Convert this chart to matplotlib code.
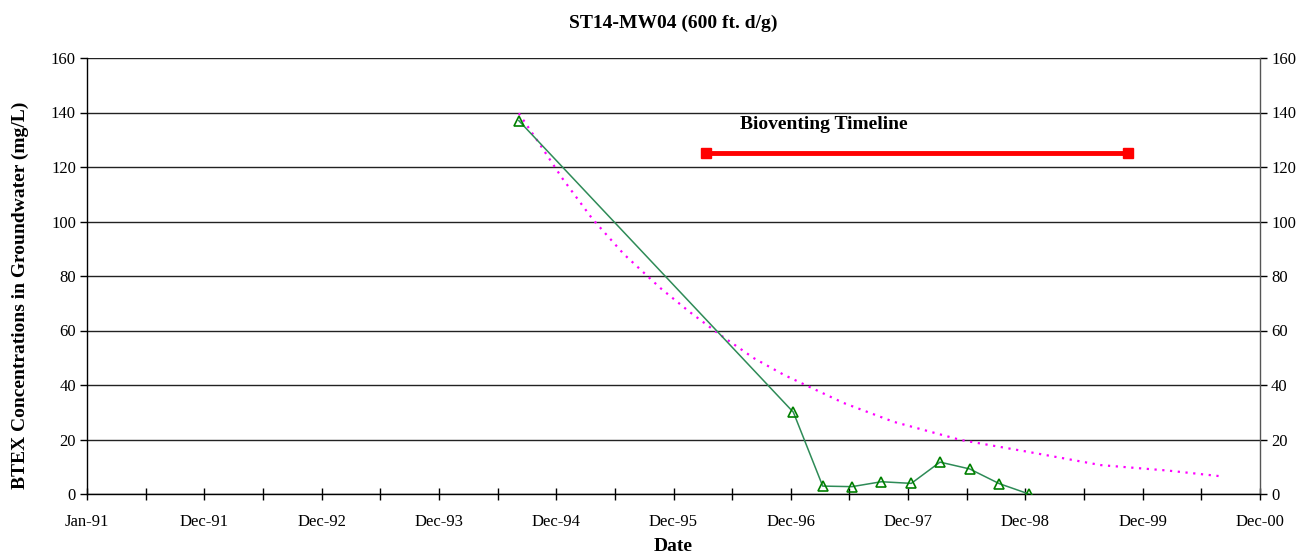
import matplotlib
matplotlib.use("Agg")
import matplotlib.pyplot as plt
import matplotlib.dates as mdates
from matplotlib.ticker import FixedLocator, MultipleLocator
import numpy as np
from datetime import datetime

plt.rcParams['font.family'] = ['Liberation Serif', 'DejaVu Serif']

# 監測井 BTEX 濃度 (mg/L)
sample_dates = ["1994-09-02", "1997-01-01", "1997-04-02", "1997-07-02", "1997-10-01",
                "1998-01-02", "1998-04-01", "1998-07-02", "1998-10-02", "1999-01-02"]
btex = [137, 30, 2.9, 2.7, 4.5, 3.9, 11.7, 9.2, 3.8, 0]

# 趨勢線
trend_dates = ["1994-09-02", "1994-11-08", "1995-01-14", "1995-04-18", "1995-07-25",
               "1995-11-16", "1996-02-12", "1996-05-20", "1996-09-01", "1996-12-03",
               "1997-06-06", "1997-11-08", "1998-06-05", "1998-12-29", "1999-08-13",
               "2000-03-08", "2000-08-28"]
trend_vals = [139.7, 128, 116, 101, 88, 75.5, 67, 58.3, 49.8, 43.7,
              33.4, 26.5, 19.8, 15.5, 10.6, 8.6, 6.4]

# Bioventing 時間線
bio_dates = ["1996-04-04", "1999-11-06"]
bio_vals = [125, 125]
bio_label = "Bioventing Timeline"
bio_label_date = "1997-04-05"
bio_label_val = 135.5

title = "ST14-MW04 (600 ft. d/g)"
x_label = "Date"
y_label = "BTEX Concentrations in Groundwater (mg/L)"


def to_num(dates):
    return mdates.date2num([datetime.strptime(d, "%Y-%m-%d") for d in dates])


fig = plt.figure(figsize=(13.09, 5.56), dpi=100)
ax = fig.add_axes([87 / 1309, 1 - 494 / 556, (1260 - 87) / 1309, (494 - 58) / 556])

x_start = mdates.date2num(datetime(1991, 1, 1))
x_end = x_start + 3640
ax.set_xlim(x_start, x_end)
ax.set_ylim(0, 160)

# 格線
ax.yaxis.set_major_locator(MultipleLocator(20))
ax.grid(axis='y', color='#222222', linewidth=1.0)
ax.set_axisbelow(True)

# 數據線
ax.plot(to_num(trend_dates), trend_vals, color='#FF00FF', linestyle=(0, (1, 2.5)),
        linewidth=1.6, zorder=3)
ax.plot(to_num(sample_dates), btex, color='#2E8B57', linewidth=1.1, marker='^',
        markersize=7, markerfacecolor='none', markeredgecolor='#008000',
        markeredgewidth=1.2, zorder=4)
ax.plot(to_num(bio_dates), bio_vals, color='#FF0000', linewidth=3.5, marker='s',
        markersize=7, zorder=5)
ax.text(to_num([bio_label_date])[0], bio_label_val, bio_label, ha='center', va='center',
        fontsize=14, fontweight='bold')

# 座標軸
ax.xaxis.set_major_locator(FixedLocator(np.arange(x_start, x_end + 1, 364)))
ax.xaxis.set_minor_locator(FixedLocator(np.arange(x_start, x_end + 1, 182)))
ax.xaxis.set_major_formatter(mdates.DateFormatter('%b-%y'))
ax.tick_params(axis='x', which='both', direction='inout', length=9, width=1,
               labelsize=12, pad=10)
ax.tick_params(axis='y', direction='out', length=5, width=1, labelsize=12,
               right=True, labelright=True, pad=3)

ax.spines['top'].set_visible(False)
for side in ['left', 'bottom', 'right']:
    ax.spines[side].set_linewidth(1.0)
ax.spines['right'].set_color('#555555')

ax.set_title(title, fontsize=14, fontweight='bold', pad=22)
ax.set_xlabel(x_label, fontsize=14, fontweight='bold', labelpad=6)
ax.set_ylabel(y_label, fontsize=14, fontweight='bold')
ax.yaxis.set_label_coords(-0.0495, 0.455)

fig.savefig("out.png", dpi=100)
